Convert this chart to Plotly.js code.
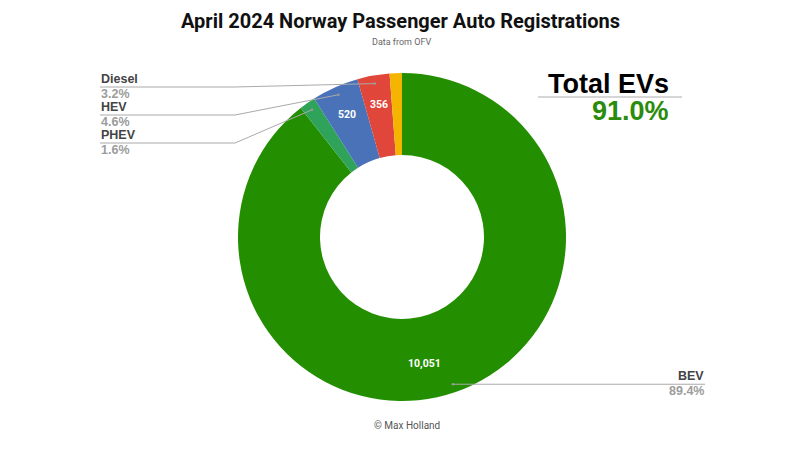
<!DOCTYPE html>
<html>
<head>
<meta charset="utf-8">
<script src="https://cdn.plot.ly/plotly-3.0.1.min.js"></script>
<style>html,body{margin:0;padding:0;background:#fff;}#chart{width:800px;height:449px;}</style>
</head>
<body>
<div id="chart"></div>
<script>
// ---- data ----
const categories = ['BEV', 'PHEV', 'HEV', 'Diesel', 'Petrol'];
const registrations = [10051, 180, 520, 356, 136];
const sliceColors = ['#238f00', '#2fa35a', '#4a72b8', '#e0463a', '#f5b400'];
const evCategories = ['BEV', 'PHEV'];
const insideLabelShown = [true, false, true, true, false];
const titleText = 'April 2024 Norway Passenger Auto Registrations';
const subtitleText = 'Data from OFV';
const creditText = '© Max Holland';

// ---- layout geometry (pixels) ----
const W = 800, H = 449;
const cx = 402, cy = 237, R = 164;
const px = x => x / W;
const py = y => 1 - y / H;

const total = registrations.reduce((a, b) => a + b, 0);
const pct = v => (100 * v / total).toFixed(1) + '%';
const evShare = registrations.filter((v, i) => evCategories.includes(categories[i])).reduce((a, b) => a + b, 0);

// slice mid-angles
const midAngles = [];
let cum = 0;
registrations.forEach(v => {
  midAngles.push(2 * Math.PI * (cum + v / 2) / total);
  cum += v;
});
const polar = (th, r) => ({x: cx + r * Math.sin(th), y: cy - r * Math.cos(th)});
const anchors = midAngles.map(th => polar(th, 0.95 * R));

// outside label slots
const leftSlots = {Diesel: 87, HEV: 115, PHEV: 143};
const labelX = 100, elbowX = 235, rightEndX = 705;

const shapes = [];
const annotations = [];
const nameFont = {family: 'Liberation Sans, Arial, sans-serif', size: 12.5, color: '#444'};
const pctFont = {family: 'Liberation Sans, Arial, sans-serif', size: 12.5, color: '#9c9c9c'};

categories.forEach((c, i) => {
  const a = anchors[i];
  let lineY, textX, xanchor;
  if (leftSlots[c] !== undefined) {
    lineY = leftSlots[c];
    shapes.push({type: 'path', xref: 'paper', yref: 'paper',
      path: `M ${px(labelX)},${py(lineY)} L ${px(elbowX)},${py(lineY)} L ${px(a.x)},${py(a.y)}`,
      line: {color: '#aaaaaa', width: 1}});
    textX = labelX; xanchor = 'left';
  } else if (c === 'BEV') {
    lineY = a.y;
    shapes.push({type: 'path', xref: 'paper', yref: 'paper',
      path: `M ${px(a.x)},${py(a.y)} L ${px(rightEndX)},${py(a.y)}`,
      line: {color: '#aaaaaa', width: 1}});
    textX = rightEndX; xanchor = 'right';
  } else {
    return;
  }
  shapes.push({type: 'circle', xref: 'paper', yref: 'paper', xsizemode: 'pixel', ysizemode: 'pixel',
    xanchor: px(a.x), yanchor: py(a.y), x0: -1.3, x1: 1.3, y0: -1.3, y1: 1.3,
    fillcolor: '#999', line: {width: 0}});
  annotations.push({xref: 'paper', yref: 'paper', x: px(textX), y: py(lineY - 8), xanchor: xanchor, yanchor: 'middle',
    text: '<b>' + c + '</b>', showarrow: false, font: nameFont, borderpad: 0});
  annotations.push({xref: 'paper', yref: 'paper', x: px(textX), y: py(lineY + 7), xanchor: xanchor, yanchor: 'middle',
    text: '<b>' + pct(registrations[i]) + '</b>', showarrow: false, font: pctFont, borderpad: 0});
});

// inside value labels
const insideAngleShift = [0.16, 0, 0, 0, 0];
categories.forEach((c, i) => {
  if (!insideLabelShown[i]) return;
  const p = polar(midAngles[i] + insideAngleShift[i], (i === 0 ? 0.78 : 0.82) * R);
  annotations.push({xref: 'paper', yref: 'paper', x: px(p.x), y: py(p.y), xanchor: 'center', yanchor: 'middle',
    text: '<b>' + registrations[i].toLocaleString('en-US') + '</b>', showarrow: false, borderpad: 0,
    font: {family: 'Roboto, sans-serif', size: 10.5, color: '#fff'}});
});

// Total EVs block
annotations.push({xref: 'paper', yref: 'paper', x: px(608), y: py(84), xanchor: 'center', yanchor: 'middle',
  text: '<b>Total EVs</b>', showarrow: false, borderpad: 0,
  font: {family: 'Liberation Sans, Arial, sans-serif', size: 27, color: '#000'}});
shapes.push({type: 'line', xref: 'paper', yref: 'paper', x0: px(538), x1: px(682), y0: py(97), y1: py(97),
  line: {color: '#c8c8c8', width: 1.5}});
annotations.push({xref: 'paper', yref: 'paper', x: px(670), y: py(111), xanchor: 'right', yanchor: 'middle',
  text: '<b>' + pct(evShare) + '</b>', showarrow: false, borderpad: 0,
  font: {family: 'Liberation Sans, Arial, sans-serif', size: 27, color: '#2a8c0a'}});

// titles and credit
annotations.push({xref: 'paper', yref: 'paper', x: px(400), y: py(21), xanchor: 'center', yanchor: 'middle',
  text: '<b>' + titleText + '</b>', showarrow: false,
  font: {family: 'Roboto, sans-serif', size: 20, color: '#111'}});
annotations.push({xref: 'paper', yref: 'paper', x: px(401), y: py(42), xanchor: 'center', yanchor: 'middle',
  text: subtitleText, showarrow: false,
  font: {family: 'Roboto, sans-serif', size: 9, color: '#666'}});
annotations.push({xref: 'paper', yref: 'paper', x: px(407), y: py(425), xanchor: 'center', yanchor: 'middle',
  text: creditText, showarrow: false,
  font: {family: 'Roboto, sans-serif', size: 10, color: '#555'}});

const trace = {
  type: 'pie',
  labels: categories,
  values: registrations,
  sort: false,
  direction: 'clockwise',
  rotation: 0,
  hole: 0.5,
  marker: {colors: sliceColors, line: {color: '#fff', width: 0}},
  textinfo: 'none',
  domain: {x: [px(cx - R), px(cx + R)], y: [py(cy + R), py(cy - R)]},
  showlegend: false,
  hoverinfo: 'label+value+percent'
};

const layout = {
  width: W, height: H,
  margin: {l: 0, r: 0, t: 0, b: 0},
  paper_bgcolor: '#fff',
  showlegend: false,
  shapes: shapes,
  annotations: annotations
};

Plotly.newPlot('chart', [trace], layout, {displayModeBar: false, staticPlot: true});
</script>
</body>
</html>
